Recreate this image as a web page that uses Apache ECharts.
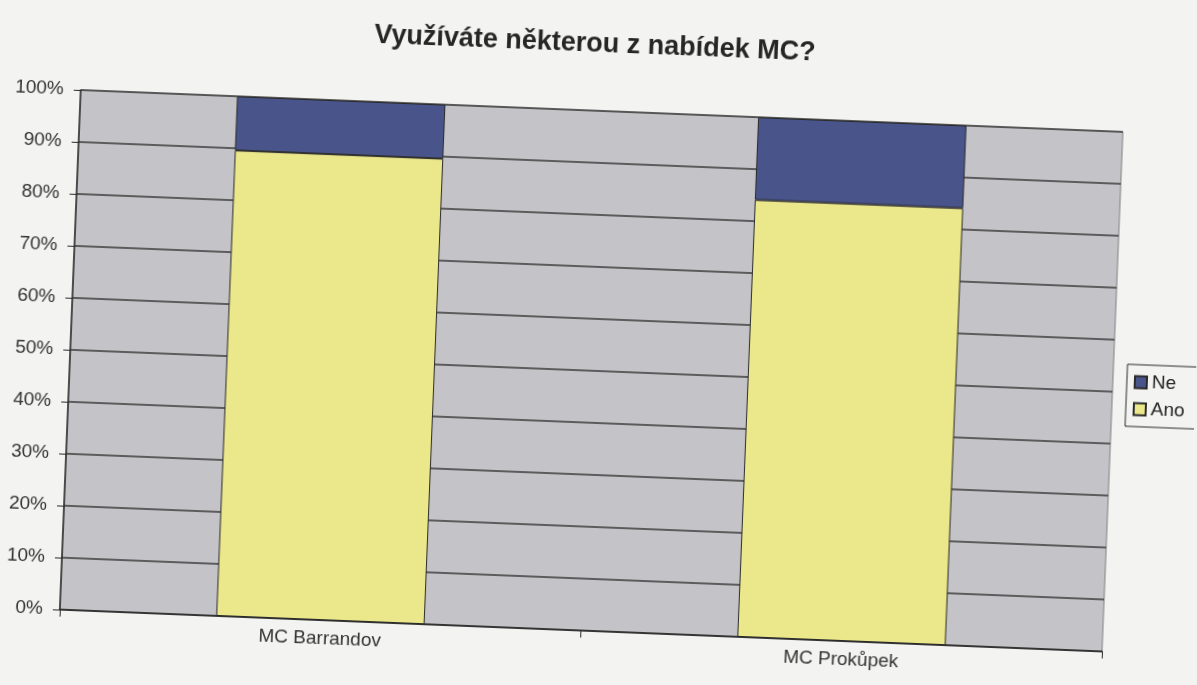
<!DOCTYPE html>
<html>
<head>
<meta charset="utf-8">
<script src="https://cdn.jsdelivr.net/npm/echarts@6/dist/echarts.min.js"></script>
<style>
  html, body { margin: 0; padding: 0; background: #f3f3f1; overflow: hidden; }
  /* the scanned page is a bit tilted, so is the chart */
  #chart { width: 1197px; height: 685px; transform: rotate(2.3deg); transform-origin: 50% 50%; }
</style>
</head>
<body>
<div id="chart"></div>
<script>
const categories = ['MC Barrandov', 'MC Prokůpek'];
const anoValues = [89.6, 84.1];
const neValues = [10.4, 15.9];
const yTicks = [0, 10, 20, 30, 40, 50, 60, 70, 80, 90, 100];

const chart = echarts.init(document.getElementById('chart'), null, { renderer: 'canvas' });

const option = {
  backgroundColor: 'transparent',
  textStyle: { fontFamily: 'Liberation Sans, Arial, sans-serif' },
  title: {
    text: 'Využíváte některou z nabídek MC?',
    left: 578,
    top: 26,
    textAlign: 'center',
    textStyle: { fontSize: 27, fontWeight: 'bold', color: '#262626' }
  },
  legend: {
    data: ['Ne', 'Ano'],
    orient: 'vertical',
    left: 1128,
    top: 343,
    icon: 'rect',
    itemWidth: 12,
    itemHeight: 12,
    itemGap: 8,
    padding: [8, 12, 8, 7],
    borderColor: '#2a2a2a',
    borderWidth: 1,
    textStyle: { fontSize: 19, color: '#222' }
  },
  grid: {
    left: 71,
    right: 83,
    top: 111,
    bottom: 54,
    show: true,
    backgroundColor: '#c4c3c7',
    borderColor: '#808080',
    borderWidth: 1
  },
  xAxis: {
    type: 'category',
    data: categories,
    axisLine: { lineStyle: { color: '#2a2a2a', width: 1.5 } },
    axisTick: { show: true, length: 7, lineStyle: { color: '#2a2a2a' } },
    axisLabel: { fontSize: 19, color: '#333', margin: 9 }
  },
  yAxis: {
    type: 'value',
    min: yTicks[0],
    max: yTicks[yTicks.length - 1],
    interval: 10,
    axisLine: { show: true, lineStyle: { color: '#2a2a2a', width: 1.5 } },
    axisTick: { show: true, length: 7, lineStyle: { color: '#2a2a2a' } },
    axisLabel: { fontSize: 19, color: '#333', margin: 17, formatter: '{value}%' },
    splitLine: { lineStyle: { color: '#3a3a3a', width: 1.5 } }
  },
  series: [{
    name: 'Ano',
    type: 'bar',
    stack: 'total',
    data: anoValues,
    barCategoryGap: '60%',
    itemStyle: { color: '#ebe78b', borderColor: '#2a2a2a', borderWidth: 1 }
  }, {
    name: 'Ne',
    type: 'bar',
    stack: 'total',
    data: neValues,
    itemStyle: { color: '#48548a', borderColor: '#2a2a2a', borderWidth: 1 }
  }]
};

chart.setOption(option);
</script>
</body>
</html>
